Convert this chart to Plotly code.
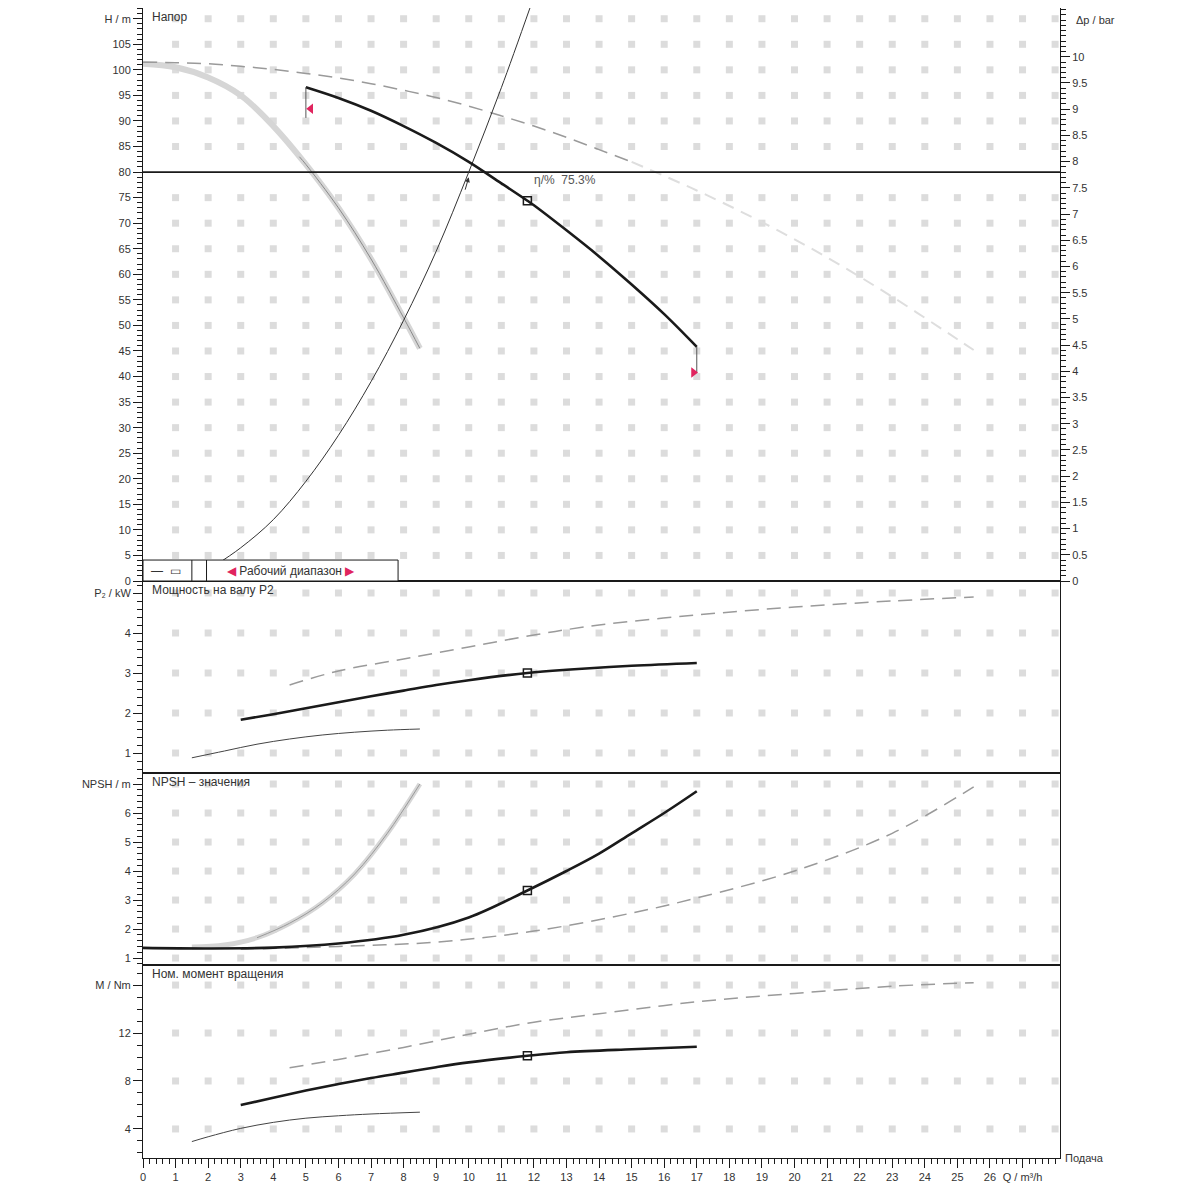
import plotly.graph_objects as go
import numpy as np

# ---------------- data ----------------
# Head curves (Q in m3/h, H in m)
q_op = [5, 6, 7, 8, 9, 10, 11, 11.8, 12, 13, 14, 15, 16, 17]
h_op = [96.6, 94.5, 92.0, 89.0, 85.7, 82.0, 77.8, 74.4, 73.5, 68.6, 63.5, 58.0, 52.2, 45.8]

q_max = [0, 1, 2, 3, 4, 5, 6, 7, 8, 9, 10, 11, 12, 13, 14, 15]
h_max = [101.5, 101.4, 101.2, 100.7, 100.1, 99.3, 98.4, 97.3, 96.0, 94.6, 92.9, 91.0, 89.0, 86.8, 84.4, 82.0]
q_max_ext = [15, 17, 19, 21, 23, 25, 25.5]
h_max_ext = [82.0, 76.4, 70.2, 63.3, 55.6, 47.3, 45.2]

q_min = [0, 1, 2, 3, 4, 5, 6, 7, 8, 8.5]
h_min = [101.2, 100.5, 98.5, 95.0, 89.0, 81.5, 73.0, 63.0, 51.5, 45.5]
q_min_thin = [4.8, 5, 6, 7, 8, 8.5]
h_min_thin = [83.0, 81.5, 73.0, 63.0, 51.5, 45.5]

q_sys = [2.2, 3, 4, 5, 6, 7, 8, 9, 10, 11, 11.9]
h_sys = [3.0, 6.5, 12.0, 19.5, 28.5, 39.0, 51.0, 64.5, 80.0, 96.5, 112.5]

h_required = 80

# Duty point
q_duty = 11.8
h_duty = 74.4
p_duty = 3.0
npsh_duty = 3.33
m_duty = 10.1
duty_text = "η/%  75.3%"

# Power P2 (kW)
q_p_max = [4.5, 6, 8, 10, 12, 14, 17, 20, 23, 25.5]
p_max = [2.7, 3.05, 3.35, 3.65, 3.95, 4.2, 4.45, 4.65, 4.8, 4.9]
q_p_op = [3, 4, 5, 6, 7, 8, 9, 10, 11.8, 13, 15, 17]
p_op = [1.83, 1.97, 2.12, 2.27, 2.42, 2.56, 2.7, 2.82, 3.0, 3.08, 3.18, 3.25]
q_p_min = [1.5, 2.5, 3.5, 4.5, 5.5, 6.5, 7.5, 8.5]
p_min = [0.88, 1.05, 1.22, 1.35, 1.45, 1.52, 1.57, 1.6]

# NPSH (m)
q_n_min = [1.5, 2.5, 3.5, 4.5, 5.5, 6.5, 7.5, 8.5]
n_min = [1.38, 1.45, 1.7, 2.2, 2.9, 3.9, 5.3, 7.0]
q_n_op = [0, 2, 4, 6, 8, 10, 11.8, 13, 14, 15, 16, 17]
n_op = [1.35, 1.33, 1.36, 1.5, 1.8, 2.4, 3.33, 4.0, 4.6, 5.3, 6.0, 6.75]
q_n_max = [3, 6, 9, 12, 15, 17, 20, 23, 25.5]
n_max = [1.3, 1.4, 1.55, 1.93, 2.55, 3.07, 4.0, 5.3, 6.9]

# Torque (Nm)
q_m_max = [4.5, 6, 8, 10, 12, 14, 17, 20, 23, 25.5]
m_max = [9.1, 9.8, 10.8, 11.9, 12.9, 13.6, 14.6, 15.3, 15.9, 16.2]
q_m_op = [3, 4, 5, 6, 7, 8, 9, 10, 11.8, 13, 15, 17]
m_op = [6.0, 6.6, 7.2, 7.75, 8.25, 8.7, 9.15, 9.55, 10.1, 10.4, 10.65, 10.85]
q_m_min = [1.5, 2, 3, 4, 5, 6, 7, 8.5]
m_min = [2.95, 3.35, 4.05, 4.55, 4.9, 5.1, 5.25, 5.4]

# tick labels
x_ticks = list(range(0, 28))
x_ticktext = [str(v) for v in range(0, 27)] + ["Q / m³/h"]
h_ticks = list(range(0, 115, 5))
h_ticktext = [str(v) for v in range(0, 110, 5)] + ["H / m"]
dp_ticks = [v / 2 for v in range(0, 21)]
dp_ticktext = [("%g" % v) for v in dp_ticks]
p_ticks = [1, 2, 3, 4, 5]
p_ticktext = ["1", "2", "3", "4", "P₂ / kW"]
n_ticks = [1, 2, 3, 4, 5, 6, 7]
n_ticktext = ["1", "2", "3", "4", "5", "6", "NPSH / m"]
m_ticks = [4, 8, 12, 16]
m_ticktext = ["4", "8", "12", "M / Nm"]

# ---------------- styling ----------------
FONT = "Liberation Sans, Arial, sans-serif"
TXT = "#333333"
BLACK = "#1a1a1a"
GRAY_D = "#9a9a9a"
GRAY_L = "#d6d6d6"
DOT = "#dcdcdc"
RED = "#e0245e"
XMAX = 28.15

fig = go.Figure()

def grid_dots(xa, ya, yvals):
    gx, gy = np.meshgrid(np.arange(1, 29), yvals)
    fig.add_trace(go.Scatter(x=gx.ravel(), y=gy.ravel(), mode="markers",
                             marker=dict(symbol="square", size=7, color=DOT),
                             xaxis=xa, yaxis=ya, hoverinfo="skip", showlegend=False))

def line(xa, ya, x, y, color, width, dash="solid"):
    fig.add_trace(go.Scatter(x=x, y=y, mode="lines", line=dict(color=color, width=width, dash=dash, shape="spline"),
                             xaxis=xa, yaxis=ya, hoverinfo="skip", showlegend=False))

def duty(xa, ya, x, y):
    fig.add_trace(go.Scatter(x=[x], y=[y], mode="markers",
                             marker=dict(symbol="square-open", size=8, color=BLACK, line=dict(width=1.5)),
                             xaxis=xa, yaxis=ya, hoverinfo="skip", showlegend=False))

# grid dots
grid_dots("x", "y", [v for v in range(5, 115, 5) if v != h_required])
grid_dots("x2", "y3", [1, 2, 3, 4, 5])
grid_dots("x3", "y4", [1, 2, 3, 4, 5, 6, 7])
grid_dots("x4", "y5", [4, 8, 12, 16])

# ---- head panel ----
line("x", "y", q_min, h_min, GRAY_L, 6)
line("x", "y", q_min_thin, h_min_thin, "#8a8a8a", 1)
line("x", "y", q_max_ext, h_max_ext, "#dedede", 2, "12px,8px")
line("x", "y", q_max, h_max, GRAY_D, 1.5, "14px,8px")
# required head line
fig.add_trace(go.Scatter(x=[0, XMAX], y=[h_required, h_required], mode="lines",
                         line=dict(color=BLACK, width=1.6), xaxis="x", yaxis="y",
                         hoverinfo="skip", showlegend=False))
line("x", "y", q_sys, h_sys, "#333333", 1)
line("x", "y", q_op, h_op, BLACK, 2.6)
duty("x", "y", q_duty, h_duty)
# limits of working range
fig.add_trace(go.Scatter(x=[q_op[0], q_op[0], None, q_op[-1], q_op[-1]],
                         y=[h_op[0], h_op[0] - 6, None, h_op[-1], h_op[-1] - 5],
                         mode="lines", line=dict(color="#555555", width=1),
                         xaxis="x", yaxis="y", hoverinfo="skip", showlegend=False))
fig.add_trace(go.Scatter(x=[q_op[0] + 0.15], y=[h_op[0] - 4.2], mode="markers",
                         marker=dict(symbol="triangle-left", size=9, color=RED),
                         xaxis="x", yaxis="y", hoverinfo="skip", showlegend=False))
fig.add_trace(go.Scatter(x=[q_op[-1] - 0.1], y=[h_op[-1] - 5], mode="markers",
                         marker=dict(symbol="triangle-right", size=9, color=RED),
                         xaxis="x", yaxis="y", hoverinfo="skip", showlegend=False))
# dummy trace for right axis
fig.add_trace(go.Scatter(x=[0], y=[0], mode="markers", marker=dict(opacity=0),
                         xaxis="x", yaxis="y2", hoverinfo="skip", showlegend=False))

# ---- power panel ----
line("x2", "y3", q_p_max, p_max, GRAY_D, 1.5, "14px,8px")
line("x2", "y3", q_p_min, p_min, "#444444", 1)
line("x2", "y3", q_p_op, p_op, BLACK, 2.6)
duty("x2", "y3", q_duty, p_duty)

# ---- NPSH panel ----
line("x3", "y4", q_n_min, n_min, GRAY_L, 5)
line("x3", "y4", q_n_min[2:], n_min[2:], "#9a9a9a", 1)
line("x3", "y4", q_n_max, n_max, GRAY_D, 1.5, "14px,8px")
line("x3", "y4", q_n_op, n_op, BLACK, 2.6)
duty("x3", "y4", q_duty, npsh_duty)

# ---- torque panel ----
line("x4", "y5", q_m_max, m_max, GRAY_D, 1.5, "14px,8px")
line("x4", "y5", q_m_min, m_min, "#444444", 1)
line("x4", "y5", q_m_op, m_op, BLACK, 2.6)
duty("x4", "y5", q_duty, m_duty)

# ---------------- layout ----------------
# page body adds an 8 px offset, so the margins are reduced accordingly
OFF = 8
H_TOP, H_BOT = 8, 1158
def dom(p_top, p_bot):
    return [(H_BOT - p_bot) / (H_BOT - H_TOP), (H_BOT - p_top) / (H_BOT - H_TOP)]

tickfont = dict(family=FONT, size=11, color=TXT)
common_x = dict(range=[0, XMAX], showgrid=False, zeroline=False, showline=True,
                linecolor=BLACK, linewidth=1, mirror=True)
common_y = dict(showgrid=False, zeroline=False, showline=True, linecolor=BLACK, linewidth=1,
                mirror=True, ticks="outside", tickcolor=BLACK, ticklen=9, tickfont=tickfont,
                tickmode="array")

fig.update_layout(
    width=1200, height=1200,
    margin=dict(l=143 - OFF, r=140 + OFF, t=H_TOP - OFF, b=1200 - H_BOT + OFF),
    paper_bgcolor="white", plot_bgcolor="white",
    font=dict(family=FONT, size=12, color=TXT),
    showlegend=False,
    xaxis=dict(**common_x, anchor="y", showticklabels=False, ticks=""),
    xaxis2=dict(**common_x, anchor="y3", matches="x", showticklabels=False, ticks=""),
    xaxis3=dict(**common_x, anchor="y4", matches="x", showticklabels=False, ticks=""),
    xaxis4=dict(**common_x, anchor="y5", matches="x", tickmode="array", tickvals=x_ticks,
                ticktext=x_ticktext, ticks="outside", ticklen=9, tickcolor=BLACK, tickfont=tickfont,
                minor=dict(tickmode="linear", tick0=0, dtick=0.2, ticks="outside", ticklen=5, tickcolor=BLACK)),
    yaxis=dict(**common_y, domain=dom(8, 581), anchor="x", range=[0, 112.1],
               tickvals=h_ticks, ticktext=h_ticktext,
               minor=dict(tickmode="linear", tick0=0, dtick=1, ticks="outside", ticklen=5, tickcolor=BLACK)),
    yaxis2=dict(overlaying="y", side="right", anchor="x", range=[0, 10.93], showgrid=False,
                zeroline=False, showline=True, linecolor=BLACK, ticks="outside", ticklen=9,
                tickcolor=BLACK, tickfont=tickfont, tickmode="array", tickvals=dp_ticks, ticktext=dp_ticktext,
                minor=dict(tickmode="linear", tick0=0, dtick=0.1, ticks="outside", ticklen=5, tickcolor=BLACK)),
    yaxis3=dict(**common_y, domain=dom(581, 773), anchor="x2", range=[0.5, 5.3],
                tickvals=p_ticks, ticktext=p_ticktext,
                minor=dict(tickmode="linear", tick0=0, dtick=0.2, ticks="outside", ticklen=5, tickcolor=BLACK)),
    yaxis4=dict(**common_y, domain=dom(773, 965), anchor="x3", range=[0.76, 7.38],
                tickvals=n_ticks, ticktext=n_ticktext,
                minor=dict(tickmode="linear", tick0=0, dtick=0.2, ticks="outside", ticklen=5, tickcolor=BLACK)),
    yaxis5=dict(**common_y, domain=dom(965, 1158), anchor="x4", range=[1.58, 17.67],
                tickvals=m_ticks, ticktext=m_ticktext,
                minor=dict(tickmode="linear", tick0=0, dtick=1, ticks="outside", ticklen=5, tickcolor=BLACK)),
)

ann = []
titles = [("y", "Напор"), ("y3", "Мощность на валу P2"), ("y4", "NPSH – значения"), ("y5", "Ном. момент вращения")]
for ya, t in titles:
    ann.append(dict(xref="x domain", yref=ya + " domain", x=0.008, y=1.0, xanchor="left", yanchor="top",
                    text=t, showarrow=False, font=dict(family=FONT, size=12, color=TXT)))
ann.append(dict(xref="paper", yref="y domain", x=1.0, xshift=14, y=0.979, xanchor="left", yanchor="middle",
                text="Δp / bar", showarrow=False, font=dict(family=FONT, size=11, color=TXT)))
ann.append(dict(xref="paper", yref="y5 domain", x=1.0, xshift=3, y=0.0, xanchor="left", yanchor="middle",
                text="Подача", showarrow=False, font=dict(family=FONT, size=11, color=TXT)))
ann.append(dict(xref="x", yref="y", x=q_duty + 0.15, y=h_duty + 2.2, xanchor="left", yanchor="bottom",
                text=duty_text, showarrow=False, font=dict(family=FONT, size=12, color="#555555")))
# arrow on system curve
ann.append(dict(xref="x", yref="y", x=q_sys[8], y=h_sys[8] - 1, ax=-4, ay=14, text="", showarrow=True,
                arrowhead=2, arrowsize=1, arrowwidth=1, arrowcolor="#333333"))
# legend box content
ann.append(dict(xref="x", yref="y", x=0.7, y=2.0, text="—  ▭", showarrow=False, xanchor="center",
                yanchor="middle", font=dict(family=FONT, size=12, color=TXT)))
ann.append(dict(xref="x", yref="y", x=4.55, y=2.0,
                text="<span style='color:#e0245e'>◀</span> Рабочий диапазон <span style='color:#e0245e'>▶</span>",
                showarrow=False, xanchor="center", yanchor="middle", font=dict(family=FONT, size=12, color=TXT)))
fig.update_layout(annotations=ann)

fig.add_shape(type="rect", xref="x", yref="y", x0=0, x1=7.83, y0=0, y1=4.1,
              line=dict(color=BLACK, width=1), fillcolor="white", layer="above")
fig.add_shape(type="line", xref="x", yref="y", x0=1.5, x1=1.5, y0=0, y1=4.1,
              line=dict(color=BLACK, width=1), layer="above")
fig.add_shape(type="line", xref="x", yref="y", x0=1.95, x1=1.95, y0=0, y1=4.1,
              line=dict(color=BLACK, width=1), layer="above")

fig.write_html("out.html")
